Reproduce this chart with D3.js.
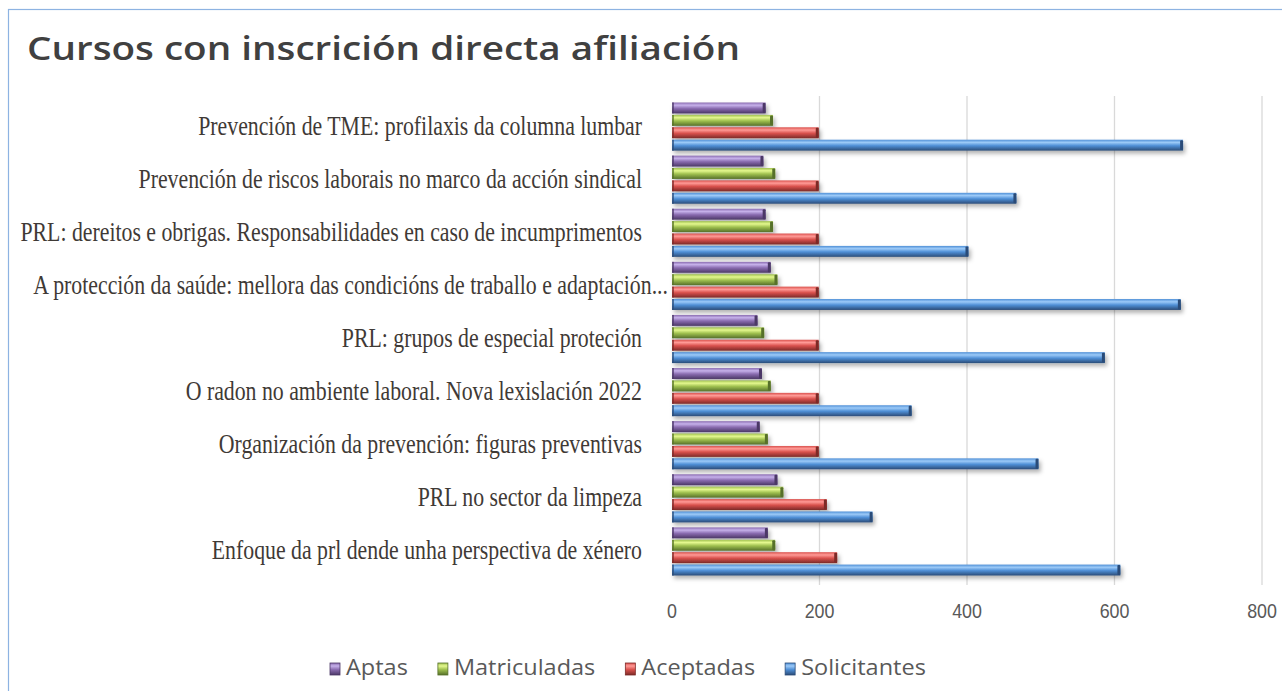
<!DOCTYPE html>
<html>
<head>
<meta charset="utf-8">
<script src="https://cdn.jsdelivr.net/npm/d3@7"></script>
<style>
  html, body { margin: 0; padding: 0; background: #fff; }
  svg { display: block; }
</style>
</head>
<body>
<div id="chart"></div>
<script>
const courses = [
  'Prevención de TME: profilaxis da columna lumbar',
  'Prevención de riscos laborais no marco da acción sindical',
  'PRL: dereitos e obrigas. Responsabilidades en caso de incumprimentos',
  'A protección da saúde: mellora das condicións de traballo e adaptación...',
  'PRL: grupos de especial proteción',
  'O radon no ambiente laboral. Nova lexislación 2022',
  'Organización da prevención: figuras preventivas',
  'PRL no sector da limpeza',
  'Enfoque da prl dende unha perspectiva de xénero',
];
const seriesNames = ['Aptas', 'Matriculadas', 'Aceptadas', 'Solicitantes'];
const aptas        = [127, 124, 127, 134, 116, 122, 119, 143, 130];
const matriculadas = [137, 140, 137, 143, 125, 134, 130, 151, 140];
const aceptadas    = [199, 199, 199, 199, 199, 199, 199, 210, 224];
const solicitantes = [693, 467, 402, 690, 587, 325, 497, 272, 608];
const xTicks = [0, 200, 400, 600, 800];

const seriesValues = { Aptas: aptas, Matriculadas: matriculadas, Aceptadas: aceptadas, Solicitantes: solicitantes };
const shades = {
  Aptas:        ['#c6b1ea', '#8a6cb0', '#4b3766'],
  Matriculadas: ['#e4f88e', '#9fc04f', '#56702a'],
  Aceptadas:    ['#ff9a96', '#d9514d', '#7c2a28'],
  Solicitantes: ['#9ccaf8', '#4f8fd6', '#2b4c78'],
};

const width = 1282, height = 691;
const svg = d3.select('#chart').append('svg').attr('width', width).attr('height', height);
const defs = svg.append('defs');

seriesNames.forEach((s, i) => {
  const g = defs.append('linearGradient').attr('id', 'grad' + i).attr('x1', 0).attr('y1', 0).attr('x2', 0).attr('y2', 1);
  g.append('stop').attr('offset', '0%').attr('stop-color', shades[s][1]);
  g.append('stop').attr('offset', '25%').attr('stop-color', shades[s][0]);
  g.append('stop').attr('offset', '55%').attr('stop-color', shades[s][1]);
  g.append('stop').attr('offset', '100%').attr('stop-color', shades[s][2]);
});
const shadow = defs.append('filter').attr('id', 'shadow').attr('x', '-5%').attr('y', '-50%').attr('width', '115%').attr('height', '250%');
shadow.append('feDropShadow').attr('dx', 2).attr('dy', 3).attr('stdDeviation', 2).attr('flood-color', '#000').attr('flood-opacity', 0.3);

// chart frame
svg.append('rect').attr('x', 8.5).attr('y', 9.5).attr('width', 1300).attr('height', 700)
  .attr('fill', '#fff').attr('stroke', '#8db3e2').attr('stroke-width', 1.2);

svg.append('text').attr('x', 27).attr('y', 60)
  .attr('font-family', '"Open Sans", sans-serif').attr('font-weight', 600).attr('font-size', 33)
  .attr('fill', '#404040').attr('textLength', 713).attr('lengthAdjust', 'spacingAndGlyphs')
  .text('Cursos con inscrición directa afiliación');

const x = d3.scaleLinear([0, 800], [672, 1262]);
const y0 = d3.scaleBand(courses, [100, 578]).paddingInner(0.08).paddingOuter(0.04);
const y1 = d3.scaleBand(seriesNames, [0, y0.bandwidth()]).paddingInner(0.12).paddingOuter(0.03);

// gridlines
svg.append('g').selectAll('line').data(xTicks.slice(1)).join('line')
  .attr('x1', (d) => x(d)).attr('x2', (d) => x(d)).attr('y1', 96).attr('y2', 585)
  .attr('stroke', '#d9d9d9').attr('stroke-width', 1.3);

// bars
const groups = svg.append('g').selectAll('g').data(courses).join('g')
  .attr('transform', (c) => `translate(0,${y0(c)})`);
const bar = groups.selectAll('g').data((c, ci) => seriesNames.map((s, si) => ({ s, si, v: seriesValues[s][ci] }))).join('g')
  .attr('filter', 'url(#shadow)');
bar.append('rect')
  .attr('x', x(0)).attr('y', (d) => y1(d.s))
  .attr('width', (d) => x(d.v) - x(0)).attr('height', y1.bandwidth())
  .attr('fill', (d) => `url(#grad${d.si})`);
bar.append('rect')
  .attr('x', (d) => x(d.v) - 3).attr('y', (d) => y1(d.s) + 0.5)
  .attr('width', 3).attr('height', y1.bandwidth() - 1).attr('rx', 1)
  .attr('fill', (d) => shades[d.s][2]);
bar.append('rect')
  .attr('x', x(0)).attr('y', (d) => y1(d.s))
  .attr('width', 2).attr('height', y1.bandwidth())
  .attr('fill', (d) => shades[d.s][2]).attr('opacity', 0.7);

// category labels (condensed serif)
const labels = svg.append('g').selectAll('text').data(courses).join('text')
  .attr('font-family', '"Liberation Serif", "DejaVu Serif", serif').attr('font-size', 28)
  .attr('fill', '#3f3a36').attr('text-anchor', 'end')
  .text((d) => d);
const longest = labels.nodes().find((n) => n.textContent.startsWith('PRL: dereitos'));
const sx = 622 / longest.getComputedTextLength();
labels.attr('transform', (d) => {
  const right = d.endsWith('...') ? 668 : 642;
  return `translate(${right},${y0(d) + y0.bandwidth() / 2 + 8}) scale(${sx},1)`;
});

// x axis tick labels
svg.append('g').selectAll('text').data(xTicks).join('text')
  .attr('font-family', '"Liberation Sans Narrow", "Liberation Sans", sans-serif').attr('font-size', 21)
  .attr('fill', '#595959').attr('text-anchor', 'middle')
  .attr('transform', (d) => `translate(${x(d)},618) scale(0.85,1)`)
  .text((d) => d);

// legend
const legend = svg.append('g');
const items = legend.selectAll('g').data(seriesNames).join('g');
items.append('rect').attr('width', 10).attr('height', 12).attr('y', -12)
  .attr('fill', (d, i) => `url(#grad${i})`).attr('stroke', (d) => shades[d][2]).attr('stroke-width', 0.8);
items.append('text').attr('font-family', '"Open Sans", sans-serif').attr('font-size', 21)
  .attr('fill', '#595959').attr('transform', 'translate(16,0) scale(1.12,1)').text((d) => d);
let lx = 330;
items.each(function () {
  d3.select(this).attr('transform', `translate(${lx},675)`);
  lx += this.getBoundingClientRect().width + 30;
});
</script>
</body>
</html>
